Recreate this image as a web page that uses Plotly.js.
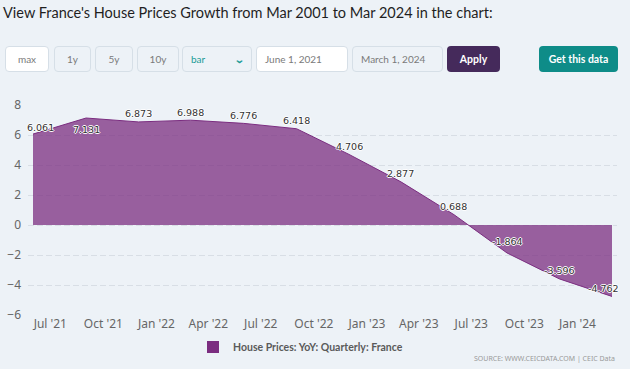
<!DOCTYPE html>
<html>
<head>
<meta charset="utf-8">
<script src="https://cdn.plot.ly/plotly-3.0.1.min.js"></script>
<style>
html, body { margin: 0; padding: 0; background: #edf2f7; width: 630px; height: 369px; overflow: hidden; }
#chart { position: absolute; left: 0; top: 0; width: 630px; height: 369px; }
.ctl { position: absolute; top: 46px; height: 26px; box-sizing: border-box; border: 1px solid #d6dfe7; border-radius: 4px;
       background: #edf2f7; font-family: Lato, sans-serif; font-size: 10px; color: #7a7a7a;
       display: flex; align-items: center; justify-content: center; }
.ctl.white { background: #ffffff; }
.ctl.left { justify-content: flex-start; padding-left: 8px; }
.ctl.btn { border: none; color: #ffffff; font-weight: bold; font-size: 10.5px; }
</style>
</head>
<body>
<div id="chart"></div>
<div class="ctl white" style="left:5px;width:44px;">max</div>
<div class="ctl" style="left:54px;width:37px;">1y</div>
<div class="ctl" style="left:95px;width:38px;">5y</div>
<div class="ctl" style="left:137px;width:42px;">10y</div>
<div class="ctl left" style="left:182px;width:70px;color:#1b9b96;">bar<span style="position:absolute;right:8px;top:6px;font-size:10px;font-weight:bold;transform:scaleX(1.3);">&#8964;</span></div>
<div class="ctl white left" style="left:256px;width:92px;">June 1, 2021</div>
<div class="ctl left" style="left:352px;width:91px;">March 1, 2024</div>
<div class="ctl btn" style="left:447px;width:53px;background:#452a5b;">Apply</div>
<div class="ctl btn" style="left:539px;width:79px;background:#0e8c88;">Get this data</div>
<script>
// ---- data ----
const dates = ['2021-06-01', '2021-09-01', '2021-12-01', '2022-03-01', '2022-06-01', '2022-09-01',
               '2022-12-01', '2023-03-01', '2023-06-01', '2023-09-01', '2023-12-01', '2024-03-01'];
const values = [6.061, 7.131, 6.873, 6.988, 6.776, 6.418, 4.706, 2.877, 0.688, -1.864, -3.596, -4.762];
const seriesName = 'House Prices: YoY: Quarterly: France';
const yTickVals = [-6, -4, -2, 0, 2, 4, 6, 8];
const titleText = "View France's House Prices Growth from Mar 2001 to Mar 2024 in the chart:";
const sourceText = 'SOURCE: WWW.CEICDATA.COM | CEIC Data';

// ---- styling ----
const purple = '#7b2d80';
const labelShadow = '1px 0 0 #fff, -1px 0 0 #fff, 0 1px 0 #fff, 0 -1px 0 #fff';

const labelAnnotations = values.map((v, i) => {
  let xs = 0, ys = 8;
  if (i === 0) { xs = 7; ys = 7; }
  if (i === 1) { ys = -11; }
  if (i === 9) { ys = 11; }
  if (i === values.length - 1) { xs = -9; ys = 8; }
  return {
    x: dates[i], y: v, xref: 'x', yref: 'y', text: v.toFixed(3), showarrow: false,
    xanchor: 'center', yanchor: 'middle', xshift: xs, yshift: ys,
    font: { family: 'DejaVu Sans, sans-serif', size: 9.5, color: '#333333', shadow: labelShadow }
  };
});

const traces = [
  {
    type: 'scatter', mode: 'lines', x: dates, y: values, fill: 'tozeroy',
    fillcolor: 'rgba(123,45,128,0.75)', line: { color: purple, width: 1 },
    showlegend: false, hoverinfo: 'skip'
  },
  {
    type: 'bar', x: [null], y: [null], name: seriesName,
    marker: { color: purple, line: { width: 0 } }, showlegend: true
  }
];

const layout = {
  width: 630, height: 369,
  paper_bgcolor: '#edf2f7', plot_bgcolor: '#edf2f7',
  margin: { l: 28, r: 13, t: 105, b: 54 },
  title: {
    text: titleText, xref: 'container', yref: 'container', x: 3 / 630, xanchor: 'left',
    y: 1 - 13 / 369, yanchor: 'middle',
    font: { family: 'Lato, sans-serif', size: 14.5, color: '#1f1f1f' }
  },
  xaxis: {
    type: 'date', range: ['2021-05-23 08:00', '2024-03-09 16:00'],
    tick0: '2021-07-01', dtick: 'M3', tickformat: "%b '%y",
    showgrid: false, showline: false, zeroline: false, ticks: '',
    tickfont: { family: 'Noto Sans, sans-serif', size: 12, color: '#666666' }
  },
  yaxis: {
    range: [-6, 8], tickmode: 'array', tickvals: yTickVals,
    showgrid: true, gridcolor: '#d8dee5', griddash: '6px,3px', gridwidth: 1,
    zeroline: false, showline: false, ticks: '', ticklabelstandoff: 6,
    tickfont: { family: 'Noto Sans, sans-serif', size: 12, color: '#666666' }
  },
  showlegend: true,
  legend: {
    orientation: 'h', xref: 'container', x: 193 / 630, xanchor: 'left',
    yref: 'container', y: 1 - 347 / 369, yanchor: 'middle',
    bgcolor: 'rgba(0,0,0,0)', borderwidth: 0,
    font: { family: 'Lato, sans-serif', size: 10.5, color: '#5a5a5a', weight: 'bold' }
  },
  annotations: labelAnnotations.concat([
    {
      xref: 'paper', yref: 'paper', x: 1, y: -0.205, xanchor: 'right', yanchor: 'middle',
      text: sourceText, showarrow: false,
      font: { family: 'Noto Sans, sans-serif', size: 7, color: '#9a9a9a' }
    }
  ]),
  hovermode: false
};

Plotly.newPlot('chart', traces, layout, { displayModeBar: false, staticPlot: true });
</script>
</body>
</html>
